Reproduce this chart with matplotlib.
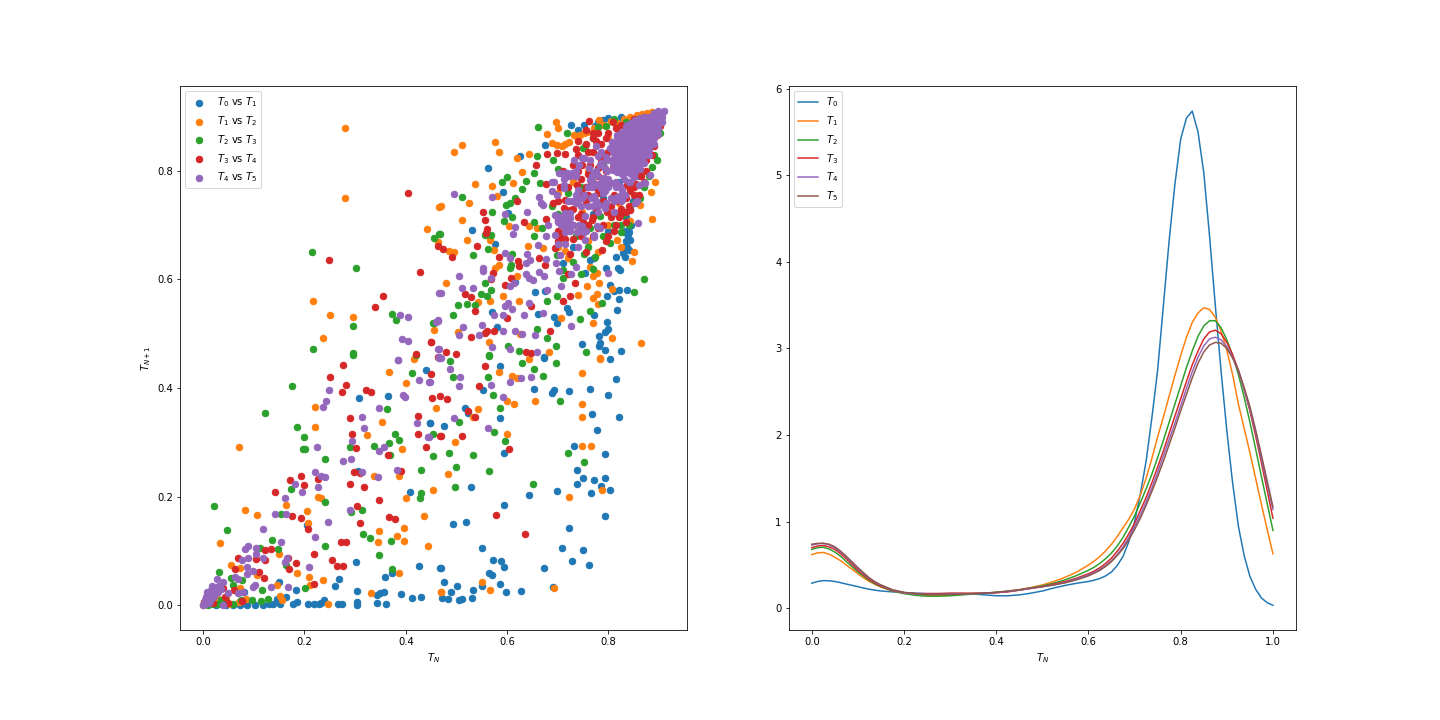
import matplotlib
matplotlib.use("Agg")
import matplotlib.pyplot as plt

t0_vs_t1 = [
(.585,.4405),(.673,.456),(.815,.416),(.804,.453),(.654,.399),(.722,.394),(.692,.396),(.688,.390),(.763,.399),(.800,.387),
(.552,.396),(.516,.364),(.522,.355),(.585,.344),(.767,.352),(.820,.346),(.448,.335),(.475,.331),(.777,.322),(.593,.280),
(.731,.293),(.793,.278),(.737,.250),(.749,.234),(.793,.234),(.771,.230),(.737,.224),(.785,.219),(.804,.213),(.765,.206),
(.698,.210),(.643,.204),(.528,.217),(.593,.184),(.794,.164),(.723,.143),(.494,.149),(.518,.154),(.550,.105),(.708,.106),
(.749,.101),(.729,.081),(.761,.075),(.573,.084),(.587,.081),(.593,.071),(.672,.068),(.469,.068),(.564,.059),(.571,.055),
(.585,.040),(.475,.042),(.502,.035),(.550,.035),(.532,.029),(.489,.025),(.597,.025),(.627,.027),(.690,.033),(.471,.014),
(.484,.012),(.506,.009),(.510,.012),(.530,.014),
(.208,.003),(.218,.002),(.228,.002),(.239,.010),(.233,.004),(.267,.002),(.274,.003),(.303,.006),(.303,.001),(.343,.005),
(.361,.003),(.350,.022),(.343,.019),(.358,.024),(.390,.020),(.413,.014),(.431,.016),(.303,.027),(.261,.035),(.269,.049),
(.301,.079),(.360,.053),(.372,.060),(.427,.072),(.468,.068),(.184,.029),(.164,.016),(.149,.042),(.178,.003),(.185,.006),
(.139,.003),(.145,.012),(.152,.002),(.119,.001),(.103,.001),(.086,.001),(.073,.001),(.060,.001),(.045,.001),(.130,.002),
(.307,.381),(.364,.385),(.439,.434),(.409,.208),(.447,.335),(.305,.247),(.205,.147),(.080,.024),(.010,.002),(.025,.001),
(.562,.805),(.674,.847),(.626,.827),(.727,.884),(.530,.691),(.577,.665),(.591,.761),(.601,.722),(.753,.612),(.771,.639),
(.764,.636),(.795,.622),(.814,.641),(.832,.641),(.837,.670),(.840,.688),(.837,.660),(.830,.688),(.843,.698),(.818,.622),
(.823,.618),(.804,.590),(.820,.581),(.837,.581),(.810,.578),(.797,.570),(.820,.564),(.816,.543),(.771,.535),(.797,.521),
(.800,.508),(.781,.495),(.794,.503),(.783,.483),(.781,.477),(.794,.470),(.824,.468),(.747,.481),(.672,.457),(.698,.519),
(.692,.530),(.718,.547),(.723,.540),(.660,.536),(.571,.540),(.580,.512),(.656,.577),(.675,.578),(.616,.596),(.751,.884),
(.774,.882),(.843,.894),(.810,.892),(.790,.893),(.835,.715),(.842,.730),(.848,.745),(.830,.725),(.860,.790),(.875,.840),
(.885,.870),(.900,.900),(.845,.810),(.820,.780),(.790,.750),(.770,.720),(.750,.690),(.730,.660),(.710,.630),(.800,.690),
(.835,.690),(.838,.680),(.842,.672),(.845,.700),(.835,.670),(.832,.660),(.840,.655),(.828,.648),(.780,.890),(.800,.897),
(.825,.900),(.860,.900),(.740,.875),
]

t1_vs_t2 = [
(.281,.879),(.281,.750),(.466,.734),(.441,.693),(.463,.669),(.216,.560),(.251,.534),(.295,.531),(.455,.507),(.236,.492),(.417,.453),
(.696,.890),(.700,.879),(.678,.868),(.577,.853),(.510,.847),(.496,.834),(.583,.834),(.619,.824),(.643,.831),(.629,.798),
(.536,.775),(.571,.772),(.611,.777),(.581,.753),(.524,.740),(.469,.735),(.510,.709),(.603,.698),(.643,.698),(.658,.694),
(.520,.672),(.566,.672),(.485,.652),(.496,.650),(.641,.661),(.575,.654),(.670,.658),(.583,.626),(.577,.621),(.619,.606),
(.479,.594),(.591,.569),(.623,.560),(.566,.560),(.542,.558),(.757,.588),(.781,.593),(.806,.582),(.769,.566),(.777,.573),
(.779,.554),(.739,.571),(.706,.529),(.769,.520),(.864,.483),(.806,.492),(.504,.503),(.564,.484),(.625,.499),(.682,.466),
(.783,.455),(.850,.650),(.846,.634),(.885,.711),(.891,.779),(.883,.761),(.816,.672),(.824,.659),(.843,.707),(.863,.737),
(.764,.623),(.777,.612),(.770,.606),(.715,.653),(.748,.725),
(.689,.851),(.699,.848),(.708,.845),(.722,.854),(.731,.866),(.744,.866),(.758,.872),(.771,.879),(.781,.894),(.791,.885),
(.817,.888),(.843,.900),(.856,.903),(.876,.906),(.830,.895),(.805,.892),(.751,.870),(.738,.862),(.715,.850),
(.070,.291),(.220,.366),(.220,.329),(.366,.429),(.401,.410),(.324,.313),(.354,.337),(.393,.287),(.459,.363),(.338,.239),
(.387,.239),(.453,.213),(.401,.197),(.226,.200),(.232,.197),(.164,.184),(.082,.175),(.107,.167),(.206,.173),(.208,.151),
(.435,.164),(.348,.136),(.397,.143),(.383,.127),(.397,.119),(.346,.116),(.443,.110),(.034,.114),(.149,.095),(.056,.075),
(.073,.068),(.186,.060),(.107,.055),(.210,.053),(.236,.047),(.386,.059),(.145,.038),(.212,.037),(.332,.022),(.470,.024),
(.151,.018),(.156,.009),(.247,.002),(.085,.012),(.073,.031),(.053,.003),(.070,.006),(.030,.012),(.015,.006),(.000,.000),
(.644,.453),(.783,.453),(.583,.429),(.609,.423),(.619,.418),(.747,.427),(.656,.377),(.599,.377),(.613,.370),(.747,.370),
(.542,.361),(.532,.346),(.747,.346),(.599,.315),(.498,.300),(.747,.294),(.765,.293),(.483,.241),(.723,.200),(.787,.212),
(.550,.042),(.566,.029),(.469,.024),(.692,.031),
(.700,.660),(.720,.700),(.740,.690),(.760,.670),(.780,.650),(.800,.700),(.820,.740),(.840,.770),(.860,.800),(.870,.830),
(.880,.860),(.895,.890),(.780,.830),(.760,.800),(.730,.780),(.700,.760),(.800,.860),(.820,.870),(.850,.880),(.720,.640),
(.035,.006),(.045,.014),(.022,.004),(.866,.905),(.886,.908),(.898,.902),
]

t2_vs_t3 = [
(.214,.650),(.301,.621),(.372,.536),(.380,.525),(.455,.519),(.295,.514),(.216,.472),(.295,.464),(.455,.676),(.466,.683),(.420,.460),
(.660,.881),(.718,.870),(.658,.827),(.690,.820),(.599,.788),(.589,.779),(.637,.781),(.654,.796),(.700,.803),(.629,.766),
(.664,.777),(.510,.752),(.615,.750),(.605,.740),(.597,.737),(.688,.735),(.571,.724),(.609,.715),(.593,.707),(.654,.706),
(.668,.694),(.467,.683),(.556,.681),(.568,.681),(.562,.656),(.532,.645),(.654,.680),(.609,.647),(.607,.626),(.605,.621),
(.556,.593),(.568,.580),(.548,.573),(.560,.569),(.536,.553),(.520,.554),(.504,.553),(.494,.534),(.454,.519),(.678,.560),
(.698,.569),(.870,.601),(.850,.577),(.787,.556),(.763,.542),(.743,.527),(.601,.477),(.623,.468),(.755,.466),(.696,.477),
(.678,.492),(.658,.508),(.564,.461),(.730,.632),(.751,.646),(.698,.645),(.710,.618),(.710,.602),(.804,.667),(.774,.641),
(.824,.688),(.856,.753),(.896,.820),(.886,.808),(.796,.882),(.754,.845),(.750,.842),(.863,.750),(.902,.870),(.784,.716),(.764,.694),
(.176,.403),(.123,.355),(.186,.329),(.200,.309),(.198,.287),(.202,.287),(.241,.270),(.362,.361),(.378,.315),(.387,.305),
(.366,.298),(.338,.294),(.289,.291),(.453,.316),(.453,.274),(.368,.276),(.431,.250),(.174,.215),(.241,.191),(.153,.169),
(.291,.171),(.314,.175),(.431,.206),(.429,.198),(.022,.182),(.048,.138),(.137,.121),(.316,.132),(.330,.123),(.370,.119),
(.241,.110),(.348,.092),(.372,.066),(.147,.103),(.113,.106),(.032,.062),(.164,.075),(.076,.046),(.055,.050),(.117,.029),
(.202,.031),(.129,.012),(.115,.007),(.097,.009),(.060,.037),(.030,.003),(.060,.003),(.075,.010),(.045,.008),(.010,.001),
(.295,.461),(.413,.427),
(.487,.449),(.564,.459),(.629,.447),(.696,.447),(.654,.436),(.670,.423),(.494,.420),(.562,.421),(.573,.388),(.704,.377),
(.585,.364),(.506,.337),(.575,.320),(.595,.302),(.485,.281),(.532,.276),(.721,.281),(.751,.263),(.500,.254),
(.564,.248),(.652,.224),(.498,.217),
(.780,.880),(.810,.895),(.835,.890),(.860,.895),(.885,.900),(.770,.860),(.880,.790),(.890,.830),(.870,.770),(.840,.700),
(.810,.700),(.790,.680),(.760,.660),(.735,.680),(.715,.700),(.700,.720),(.720,.760),(.745,.770),(.770,.790),(.790,.810),
(.830,.720),(.850,.740),(.825,.700),(.770,.620),(.745,.610),(.035,.010),(.040,.004),(.020,.002),
]

t3_vs_t4 = [
(.405,.759),(.249,.636),(.429,.613),(.356,.569),(.340,.549),(.463,.661),(.449,.485),(.421,.462),(.463,.458),
(.761,.892),(.808,.890),(.769,.860),(.678,.831),(.698,.833),(.714,.831),(.657,.811),(.676,.775),(.620,.744),(.552,.724),
(.556,.709),(.633,.706),(.676,.711),(.560,.693),(.558,.685),(.473,.657),(.492,.641),(.540,.661),(.583,.641),(.621,.634),
(.623,.624),(.662,.639),(.674,.626),(.573,.612),(.569,.601),(.607,.602),(.595,.590),(.516,.573),(.528,.567),(.536,.542),
(.648,.551),(.711,.560),(.725,.569),(.733,.593),(.600,.529),(.560,.506),(.575,.506),(.556,.501),(.528,.494),(.684,.506),
(.450,.485),(.479,.466),(.500,.462),(.637,.466),(.648,.464),(.788,.654),(.725,.646),(.695,.658),(.823,.725),(.843,.728),
(.837,.774),(.870,.780),(.843,.762),(.712,.731),(.725,.728),(.768,.710),(.748,.811),(.764,.811),(.809,.805),(.866,.836),
(.896,.866),(.902,.882),(.738,.774),(.715,.747),(.748,.759),(.777,.768),(.797,.725),(.823,.718),
(.277,.442),(.251,.421),(.283,.405),(.275,.392),(.322,.396),(.332,.392),(.449,.425),(.451,.381),(.467,.386),(.289,.344),
(.425,.348),(.293,.316),(.301,.289),(.425,.316),(.468,.311),(.439,.291),(.364,.276),(.391,.248),(.297,.245),(.309,.243),
(.289,.224),(.318,.217),(.194,.239),(.226,.233),(.172,.230),(.200,.222),(.141,.208),(.348,.193),(.303,.182),(.176,.164),
(.194,.160),(.366,.162),(.378,.158),(.310,.151),(.208,.140),(.273,.117),(.283,.117),(.123,.101),(.135,.103),(.218,.095),
(.068,.088),(.105,.086),(.123,.083),(.168,.088),(.255,.084),(.265,.073),(.277,.073),(.184,.077),(.170,.066),(.111,.062),
(.064,.066),(.121,.050),(.218,.040),(.040,.031),(.062,.028),(.076,.007),(.043,.016),(.001,.006),(.020,.004),(.050,.004),
(.556,.440),(.544,.403),(.481,.379),(.522,.357),(.536,.346),(.469,.311),(.510,.311),(.603,.287),(.579,.167),(.635,.132),
(.700,.690),(.715,.675),(.730,.700),(.745,.680),(.760,.700),(.775,.730),(.790,.700),(.805,.715),(.820,.745),(.835,.750),
(.850,.770),(.860,.800),(.875,.820),(.885,.850),(.895,.885),(.720,.790),(.740,.800),(.760,.835),(.785,.850),(.800,.870),
(.825,.885),(.850,.895),(.870,.900),(.690,.740),(.705,.770),(.730,.730),(.755,.745),(.780,.790),(.800,.780),(.825,.800),
(.790,.830),(.815,.850),(.840,.860),(.700,.710),(.745,.720),(.770,.680),(.810,.690),(.795,.670),(.755,.650),(.720,.610),
(.860,.755),(.840,.735),(.780,.870),(.735,.840),(.710,.800),
(.825,.730),(.835,.725),(.815,.722),(.820,.715),(.805,.735),(.810,.755),(.790,.745),(.780,.760),(.765,.775),(.755,.770),
(.745,.785),(.730,.810),(.740,.830),(.755,.850),(.770,.835),(.785,.820),(.800,.835),(.795,.800),(.780,.805),(.760,.795),
(.720,.770),(.735,.790),(.700,.745),(.760,.755),(.770,.715),(.750,.705),(.740,.715),(.730,.675),(.715,.690),(.705,.680),
(.700,.670),(.780,.695),(.800,.680),(.815,.700),(.835,.705),(.850,.755),(.855,.775),(.865,.790),(.875,.800),(.885,.830),
(.890,.845),(.880,.880),(.850,.890),(.835,.882),(.815,.878),(.795,.860),(.775,.855),(.755,.875),(.770,.870),(.740,.855),
]

t4_vs_t5 = [
(.466,.575),(.389,.534),(.405,.530),(.463,.524),(.459,.521),(.393,.490),(.405,.486),(.464,.472),(.384,.452),
(.496,.757),(.571,.752),(.662,.752),(.666,.740),(.670,.737),(.595,.720),(.639,.724),(.615,.696),(.611,.683),(.676,.680),
(.660,.663),(.595,.648),(.605,.639),(.639,.646),(.676,.637),(.696,.630),(.637,.630),(.646,.635),(.552,.621),(.552,.615),
(.702,.615),(.735,.623),(.727,.610),(.506,.606),(.569,.602),(.637,.610),(.643,.602),(.662,.613),(.672,.606),(.800,.612),
(.510,.584),(.532,.584),(.469,.575),(.613,.593),(.605,.588),(.652,.599),(.678,.580),(.706,.588),(.601,.556),(.595,.551),
(.643,.556),(.609,.545),(.633,.534),(.575,.534),(.591,.534),(.670,.538),(.727,.514),(.463,.525),(.512,.512),(.550,.516),
(.506,.497),(.544,.497),(.591,.506),(.615,.506),(.629,.499),(.656,.497),(.571,.475),(.605,.472),(.658,.466),(.465,.472),(.465,.458),
(.695,.719),(.708,.704),(.715,.688),(.695,.682),(.725,.722),(.744,.695),(.754,.716),(.771,.682),(.784,.694),(.735,.744),
(.751,.756),(.771,.750),(.794,.731),(.823,.750),(.853,.741),(.858,.704),(.881,.793),(.873,.777),(.860,.774),(.688,.780),
(.712,.774),(.698,.756),(.705,.796),(.731,.796),(.731,.820),(.751,.823),(.764,.783),(.777,.774),(.791,.787),(.814,.780),
(.797,.799),(.804,.842),
(.808,.802),(.808,.812),(.808,.822),(.808,.835),(.808,.848),
(.817,.797),(.817,.808),(.817,.818),(.817,.829),(.817,.841),(.817,.852),(.817,.862),
(.826,.795),(.826,.806),(.826,.817),(.826,.828),(.826,.838),(.826,.849),(.826,.860),(.826,.871),
(.835,.797),(.835,.807),(.835,.819),(.835,.830),(.835,.841),(.835,.851),(.835,.862),(.835,.873),(.835,.881),
(.844,.795),(.844,.806),(.844,.818),(.844,.827),(.844,.839),(.844,.849),(.844,.860),(.844,.871),(.844,.880),(.844,.889),
(.853,.798),(.853,.809),(.853,.820),(.853,.832),(.853,.842),(.853,.853),(.853,.863),(.853,.874),(.853,.884),(.853,.893),
(.862,.803),(.862,.815),(.862,.826),(.862,.837),(.862,.848),(.862,.858),(.862,.869),(.862,.879),(.862,.889),(.862,.897),
(.871,.815),(.871,.827),(.871,.838),(.871,.849),(.871,.859),(.871,.870),(.871,.881),(.871,.890),(.871,.899),
(.880,.830),(.880,.841),(.880,.852),(.880,.862),(.880,.873),(.880,.883),(.880,.892),(.880,.900),
(.889,.850),(.889,.861),(.889,.871),(.889,.881),(.889,.890),(.889,.899),(.889,.906),
(.898,.868),(.898,.878),(.898,.887),(.898,.896),(.898,.904),(.898,.910),
(.906,.890),(.906,.899),(.906,.907),(.910,.910),
(.768,.790),(.778,.792),(.788,.785),(.772,.778),(.782,.775),(.795,.775),(.768,.770),(.785,.768),
(.718,.796),(.724,.790),(.735,.800),(.712,.785),(.707,.700),(.712,.712),(.720,.705),(.716,.695),(.725,.690),
(.742,.700),(.748,.690),(.738,.688),(.817,.752),(.825,.745),(.832,.755),(.810,.745),(.735,.755),(.742,.748),(.728,.745),
(.775,.745),(.782,.738),(.770,.735),(.765,.750),(.705,.715),(.700,.705),(.800,.785),(.808,.778),(.815,.770),(.822,.772),
(.830,.785),(.840,.780),(.850,.788),(.775,.800),(.785,.815),(.795,.825),(.790,.760),(.805,.750),(.780,.725),(.760,.735),
(.745,.735),(.720,.745),(.740,.765),(.730,.700),(.715,.665),(.740,.660),(.755,.690),(.700,.665),(.705,.645),(.680,.700),
(.797,.820),(.784,.811),(.771,.796),(.764,.820),(.748,.823),(.728,.796),(.712,.796),(.702,.796),(.735,.790),(.843,.780),
(.870,.777),(.827,.765),(.794,.762),(.771,.753),(.748,.750),(.735,.740),(.712,.768),(.692,.780),(.688,.762),(.807,.854),
(.794,.805),(.814,.836),(.817,.866),(.837,.885),(.823,.753),(.827,.747),(.856,.744),(.715,.722),(.708,.707),(.718,.694),
(.698,.716),(.725,.713),(.748,.698),(.751,.688),(.777,.698),(.754,.673),(.771,.679),(.786,.835),(.775,.845),(.762,.805),
(.742,.810),(.780,.828),(.800,.770),(.760,.770),(.810,.725),(.795,.740),
(.384,.451),(.427,.414),(.445,.412),(.249,.396),(.243,.377),(.236,.366),(.394,.388),(.398,.383),(.348,.364),(.313,.346),
(.318,.326),(.423,.335),(.293,.302),(.443,.309),(.224,.291),(.358,.291),(.348,.285),(.291,.270),(.277,.265),(.220,.245),
(.232,.239),(.241,.237),(.313,.245),(.382,.250),(.346,.237),(.182,.224),(.226,.217),(.196,.208),(.161,.197),(.289,.175),
(.141,.169),(.164,.169),(.247,.154),(.119,.141),(.220,.125),(.153,.117),(.089,.110),(.083,.103),(.105,.105),(.105,.095),
(.089,.088),(.076,.083),(.119,.088),(.166,.088),(.161,.079),(.210,.070),(.086,.071),(.098,.064),(.087,.057),(.064,.053),
(.068,.048),(.028,.048),(.040,.043),(.103,.037),(.099,.033),(.135,.033),(.168,.033),(.078,.025),(.068,.022),(.050,.022),
(.040,.001),(.027,.034),(.020,.028),(.014,.022),(.010,.013),(.004,.003),(.017,.013),(.007,.019),(.000,.000),(.003,.010),
(.022,.018),(.030,.025),(.012,.005),(.005,.015),(.018,.035),(.035,.030),(.002,.002),(.006,.006),(.010,.008),(.015,.012),
(.024,.024),(.032,.036),(.012,.018),(.016,.028),(.022,.030),(.008,.025),
(.465,.455),(.469,.455),(.487,.436),(.508,.420),(.506,.403),(.448,.412),(.569,.405),(.605,.412),(.627,.418),(.648,.420),
(.591,.384),(.496,.344),(.562,.327),(.446,.309),
]

scatter_series = [t0_vs_t1, t1_vs_t2, t2_vs_t3, t3_vs_t4, t4_vs_t5]
scatter_labels = [f"$T_{i}$ vs $T_{i+1}$" for i in range(5)]

density_x = [0,.0125,.025,.0375,.05,.0625,.075,.0875,.1,.1125,.125,.1375,.15,
             .175,.2,.225,.25,.275,.3,.325,.35,.375,.4,.425,.45,.475,.5,.525,.55,.575,.6,
             .6125,.625,.6375,.65,.6625,.675,.6875,.7,.7125,.725,.7375,.75,.7625,.775,.7875,.8,
             .8125,.825,.8375,.85,.8625,.875,.8875,.9,.9125,.925,.9375,.95,.9625,.975,.9875,1]
t0_density = [.29,.31,.32,.318,.31,.296,.28,.265,.25,.234,.22,.209,.20,
              .19,.18,.175,.17,.17,.17,.17,.165,.155,.145,.145,.155,.175,.20,.235,.265,.29,.31,
              .325,.345,.375,.42,.495,.60,.77,1.0,1.32,1.7,2.2,2.75,3.5,4.25,4.9,5.42,
              5.66,5.74,5.5,5.03,4.3,3.5,2.74,2.05,1.45,.95,.61,.37,.22,.12,.065,.035]
t1_density = [.62,.64,.645,.625,.59,.55,.50,.45,.40,.35,.31,.275,.245,
              .20,.175,.155,.145,.145,.15,.16,.17,.175,.185,.195,.215,.24,.27,.31,.36,.42,.50,
              .545,.60,.665,.74,.83,.93,1.03,1.15,1.31,1.5,1.73,1.98,2.21,2.45,2.69,2.92,
              3.13,3.3,3.41,3.47,3.45,3.36,3.2,2.98,2.7,2.36,2.08,1.8,1.5,1.2,.91,.63]
t2_density = [.68,.70,.705,.685,.65,.60,.54,.48,.42,.37,.32,.28,.25,
              .20,.17,.15,.14,.14,.145,.155,.165,.175,.185,.195,.21,.235,.26,.29,.33,.38,.44,
              .475,.52,.575,.64,.72,.82,.94,1.07,1.22,1.38,1.55,1.74,1.94,2.15,2.36,2.57,
              2.78,2.97,3.14,3.26,3.32,3.32,3.24,3.1,2.92,2.7,2.44,2.15,1.84,1.52,1.21,.90]
t3_density = [.70,.72,.725,.71,.68,.63,.57,.505,.44,.385,.33,.29,.255,
              .205,.18,.17,.17,.17,.175,.175,.175,.175,.18,.19,.21,.23,.25,.28,.31,.35,.40,
              .43,.47,.52,.58,.66,.75,.86,.98,1.13,1.28,1.45,1.63,1.82,2.02,2.22,2.42,
              2.62,2.81,2.97,3.11,3.19,3.21,3.17,3.07,2.93,2.75,2.53,2.28,1.99,1.68,1.36,1.04]
t4_density = [.73,.745,.75,.735,.70,.65,.59,.525,.46,.40,.345,.30,.265,
              .21,.18,.165,.16,.16,.165,.165,.17,.175,.18,.195,.21,.23,.25,.27,.30,.34,.385,
              .415,.45,.495,.55,.62,.71,.82,.94,1.08,1.23,1.39,1.57,1.76,1.95,2.14,2.34,
              2.54,2.73,2.90,3.03,3.11,3.13,3.10,3.02,2.90,2.74,2.53,2.3,2.03,1.73,1.43,1.14]
t5_density = [.74,.75,.75,.74,.71,.66,.60,.535,.47,.41,.35,.305,.27,
              .215,.185,.17,.16,.16,.16,.165,.17,.175,.185,.20,.215,.235,.25,.27,.295,.33,.375,
              .405,.44,.485,.54,.61,.69,.79,.91,1.04,1.19,1.35,1.52,1.70,1.89,2.08,2.28,
              2.47,2.66,2.83,2.96,3.04,3.07,3.06,3.0,2.89,2.75,2.55,2.33,2.06,1.77,1.47,1.17]
density_series = [t0_density, t1_density, t2_density, t3_density, t4_density, t5_density]
density_labels = [f"$T_{i}$" for i in range(6)]

fig, (ax1, ax2) = plt.subplots(1, 2, figsize=(20, 10), dpi=72)
fig.subplots_adjust(left=0.125, right=0.9, bottom=0.125, top=0.88, wspace=0.2)

for pts, label in zip(scatter_series, scatter_labels):
    xs, ys = zip(*pts)
    ax1.scatter(xs, ys, label=label, s=42)
ax1.set_xlabel("$T_N$")
ax1.set_ylabel("$T_{N+1}$")
ax1.legend(loc="upper left")

for vals, label in zip(density_series, density_labels):
    ax2.plot(density_x, vals, label=label)
ax2.set_xlabel("$T_N$")
ax2.legend(loc="upper left")

fig.savefig("out.png", dpi=72)
